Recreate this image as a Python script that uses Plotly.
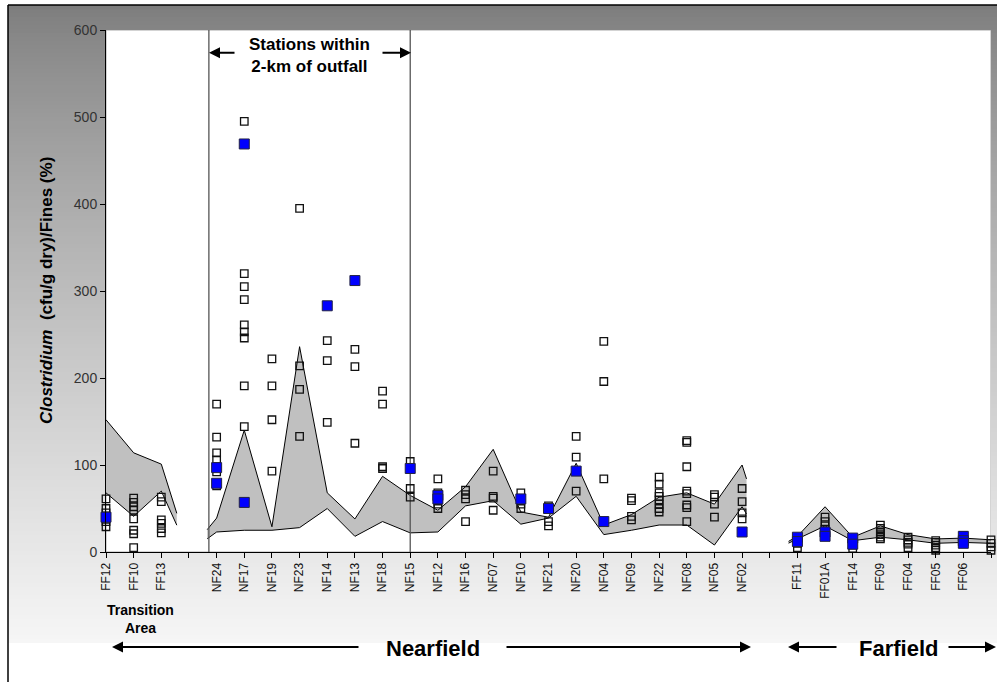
import numpy as np
import plotly.graph_objects as go

# ---------------- data ----------------
stations = ["FF12", "FF10", "FF13", "", "NF24", "NF17", "NF19", "NF23", "NF14", "NF13",
            "NF18", "NF15", "NF12", "NF16", "NF07", "NF10", "NF21", "NF20", "NF04", "NF09",
            "NF22", "NF08", "NF05", "NF02", "", "FF11", "FF01A", "FF14", "FF09", "FF04",
            "FF05", "FF06", "FF07"]
y_ticks = [0, 100, 200, 300, 400, 500, 600]

# baseline range band (blank category columns read as zero, as in the source sheet)
band_upper = [152, 114, 101, 0, 39, 140, 29, 236, 68, 38, 87, 65, 48, 75, 118, 46, 40,
              102, 31, 43, 63, 68, 55, 100, 0, 18, 52, 17, 30, 20, 15, 16, 14]
band_lower = [68, 41, 70, 0, 23, 25, 25, 28, 50, 18, 35, 22, 23, 53, 59, 32, 39,
              64, 20, 25, 31, 31, 8, 52, 0, 15, 30, 13, 17, 14, 10, 11, 10]

# portion of the band shown in the original (category-index spans)
band_spans = [(0, 2.56), (3.66, 23.16), (24.68, 32)]

# individual baseline samples (open squares)
open_samples = [
    [61, 50, 45, 35, 29], [62, 57, 52, 48, 38, 25, 21, 5], [63, 58, 37, 33, 27, 22], [],
    [170, 132, 114, 106, 98, 92, 76], [495, 320, 305, 290, 261, 253, 246, 191, 144],
    [222, 191, 152, 93], [395, 214, 187, 133], [243, 220, 149], [233, 213, 125],
    [185, 170, 98, 96], [104, 73, 63], [84, 68, 66, 60, 55, 50], [71, 66, 61, 35],
    [93, 64, 62, 48], [68, 55, 50], [53, 35, 30], [133, 109, 70], [242, 196, 84],
    [62, 59, 41, 37], [86, 78, 68, 64, 60, 55, 50, 46], [128, 126, 98, 70, 67, 54, 51, 35],
    [66, 63, 55, 40], [73, 58, 45, 38], [],
    [5, 10, 15], [40, 35, 30, 26, 22], [15, 12, 8, 4], [31, 27, 23, 20, 17, 15],
    [17, 14, 11, 9, 5], [13, 11, 8, 5, 2], [19, 15, 11], [14, 10, 6, 2],
]
# current-year samples (blue squares)
blue_samples = [
    [40], [], [], [], [97, 79], [469, 57], [], [], [283], [312], [], [96], [65, 61], [],
    [], [61], [50], [93], [35], [], [], [], [], [23], [], [17, 12], [23, 18], [16, 9],
    [], [], [], [18, 13, 10], [],
]

bracket_left = 3.72   # 2-km bracket lines (category index)
bracket_right = 11.0

# ---------------- geometry ----------------
W, H = 997, 682
PL, PR, PT, PB = 106, 991, 30, 552      # plot-area edges in pixels
TOP, BOT, LEFT = 5, 643, 8              # gradient frame


def PX(x):
    return x / W


def PY(y):
    return 1 - y / H


FONT = "Liberation Sans, Arial, sans-serif"
idx = np.arange(len(stations))

fig = go.Figure()

# ---------------- background gradient (full-figure subplot x/y) ----------------
rows = np.linspace(TOP, BOT, 161)
mids = (rows[:-1] + rows[1:]) / 2
grey = 124 + (246 - 124) * ((mids - TOP) / (BOT - TOP)) ** 0.8
fig.add_trace(go.Heatmap(x=[LEFT, W + 2], y=rows, z=[[float(v)] for v in grey],
                         colorscale=[[0, "rgb(0,0,0)"], [1, "rgb(255,255,255)"]],
                         zmin=0, zmax=255, showscale=False, hoverinfo="skip",
                         xaxis="x", yaxis="y", zsmooth=False))

# ---------------- band (main subplot x2/y2) ----------------
for a, b in band_spans:
    pts = sorted(set([a, b] + [int(i) for i in idx if a <= i <= b]))
    up = np.interp(pts, idx, band_upper)
    lo = np.interp(pts, idx, band_lower)
    fig.add_trace(go.Scatter(x=list(pts) + list(pts)[::-1], y=list(up) + list(lo)[::-1],
                             fill="toself", fillcolor="#c0c0c0", mode="lines",
                             line=dict(width=0), hoverinfo="skip", xaxis="x2", yaxis="y2"))
    fig.add_trace(go.Scatter(x=pts, y=up, mode="lines", line=dict(color="black", width=1),
                             hoverinfo="skip", xaxis="x2", yaxis="y2"))
    fig.add_trace(go.Scatter(x=pts, y=lo, mode="lines", line=dict(color="black", width=1),
                             hoverinfo="skip", xaxis="x2", yaxis="y2"))

for bx in (bracket_left, bracket_right):
    fig.add_trace(go.Scatter(x=[bx, bx], y=[0, 600], mode="lines",
                             line=dict(color="#555555", width=1.3), hoverinfo="skip",
                             xaxis="x2", yaxis="y2"))

# ---------------- samples ----------------
ox, oy = [], []
for i, vals in enumerate(open_samples):
    ox += [i] * len(vals)
    oy += vals
fig.add_trace(go.Scatter(x=ox, y=oy, mode="markers", cliponaxis=False, xaxis="x2", yaxis="y2",
                         marker=dict(symbol="square-open", size=7.5, color="#111111",
                                     line=dict(width=1.3, color="#111111"))))
bx_, by_ = [], []
for i, vals in enumerate(blue_samples):
    bx_ += [i] * len(vals)
    by_ += vals
fig.add_trace(go.Scatter(x=bx_, y=by_, mode="markers", cliponaxis=False, xaxis="x2", yaxis="y2",
                         marker=dict(symbol="square", size=10, color="#0000ff",
                                     line=dict(width=1, color="#222244"))))

# ---------------- shapes ----------------
shapes = [
    # white plot area with light border
    dict(type="rect", xref="x2", yref="y2", layer="below", x0=0, x1=32, y0=0, y1=600,
         fillcolor="white", line=dict(color="#a8a8a8", width=1)),
    # frame lines
    dict(type="line", xref="paper", yref="paper", layer="above",
         x0=PX(LEFT), x1=1.01, y0=PY(TOP), y1=PY(TOP), line=dict(color="black", width=1.5)),
    dict(type="line", xref="paper", yref="paper", layer="above",
         x0=PX(LEFT), x1=PX(LEFT), y0=PY(TOP), y1=0, line=dict(color="black", width=1.5)),
]

# ---------------- annotations ----------------
def label(text, x, y, size, angle=0):
    return dict(text=text, xref="paper", yref="paper", x=PX(x), y=PY(y), textangle=angle,
                xanchor="center", yanchor="middle", showarrow=False,
                font=dict(family=FONT, size=size, color="black"))


ann = [
    label("<b><i>Clostridium</i>\u00a0 (cfu/g dry)/Fines (%)</b>", 46, 291, 17, -90),
    label("<b>Stations within<br>2-km of outfall</b>", 309, 55.5, 17),
    label("<b>Transition<br>Area</b>", 140, 619, 14),
    label("<b>Nearfield</b>", 433, 648, 22),
    label("<b>Farfield</b>", 898, 648, 22),
]


def arrow(tip_px, tail_px, y_px):
    return dict(text="", xref="paper", yref="paper", x=PX(tip_px),
                y=PY(y_px), ax=tail_px - tip_px, ay=0, axref="pixel",
                ayref="pixel", showarrow=True, arrowhead=2, arrowsize=1.1, arrowwidth=2,
                arrowcolor="black", standoff=0)


ann += [arrow(209, 236, 52.7), arrow(411, 381, 52.7),
        arrow(112, 360, 647), arrow(751, 505, 647),
        arrow(788, 838, 647), arrow(996, 947, 647)]

fig.update_layout(
    width=W, height=H, margin=dict(l=0, r=0, t=0, b=0),
    paper_bgcolor="white", plot_bgcolor="rgba(0,0,0,0)", showlegend=False, dragmode=False,
    shapes=shapes, annotations=ann,
    xaxis=dict(domain=[0, 1], range=[0, W], visible=False, fixedrange=True, anchor="y"),
    yaxis=dict(domain=[0, 1], range=[H, 0], visible=False, fixedrange=True, anchor="x"),
    xaxis2=dict(domain=[PX(PL), PX(PR)], anchor="y2", range=[0, 32], tickmode="array",
                tickvals=list(idx), ticktext=stations, tickangle=-90, ticks="outside",
                ticklen=5, tickcolor="black", showline=True, linecolor="black", linewidth=1,
                showgrid=False, zeroline=False, fixedrange=True, automargin=False,
                tickfont=dict(family=FONT, size=12, color="#111111")),
    yaxis2=dict(domain=[PY(PB), PY(PT)], anchor="x2", range=[0, 600], tickvals=y_ticks,
                ticks="outside", ticklen=5, tickcolor="black", showline=True,
                linecolor="black", linewidth=1, showgrid=False, zeroline=False,
                fixedrange=True, automargin=False,
                tickfont=dict(family=FONT, size=14, color="#333333")),
)

fig.write_html("out.html", config={"staticPlot": True})
